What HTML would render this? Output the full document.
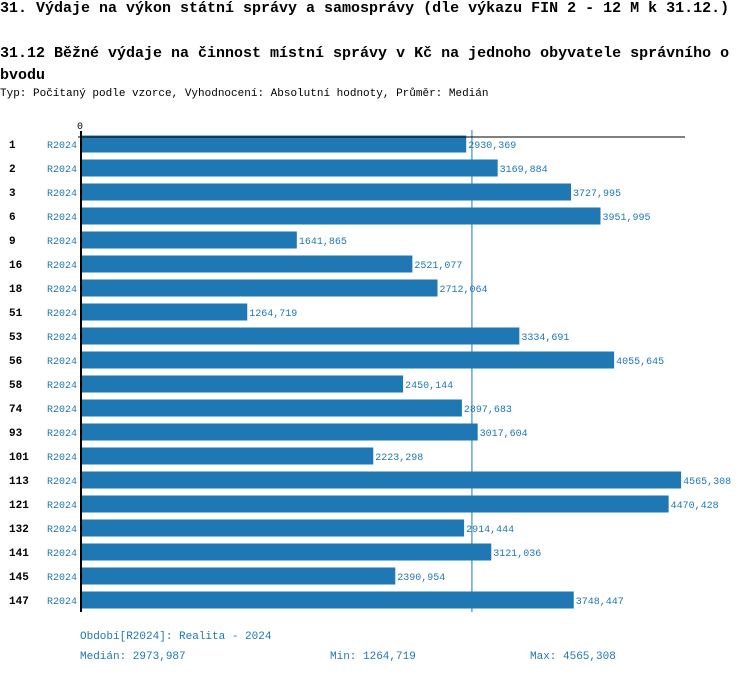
<!DOCTYPE html>
<html><head><meta charset="utf-8"><style>
body{margin:0;background:#fff;width:750px;height:676px;overflow:hidden;font-family:"Liberation Mono",monospace;}
.t{position:absolute;white-space:nowrap;}
</style></head><body>
<div class="t" style="left:0;top:0;font-size:15px;font-weight:bold;">31. Výdaje na výkon státní správy a samosprávy (dle výkazu FIN 2 - 12 M k 31.12.)</div>
<div class="t" style="left:0;top:43px;font-size:15px;font-weight:bold;line-height:22px;white-space:normal;width:750px;">31.12 Běžné výdaje na činnost místní správy v Kč na jednoho obyvatele správního o bvodu</div>
<div class="t" style="left:0;top:88px;font-size:11px;">Typ: Počítaný podle vzorce, Vyhodnocení: Absolutní hodnoty, Průměr: Medián</div>
<svg id="c" width="750" height="676" style="position:absolute;left:0;top:0"></svg>
<div class="t" style="left:80px;top:631px;font-size:11px;color:#1f77b4;">Období[R2024]: Realita - 2024</div>
<div class="t" style="left:80px;top:651px;font-size:11px;color:#1f77b4;">Medián: 2973,987</div>
<div class="t" style="left:330px;top:651px;font-size:11px;color:#1f77b4;">Min: 1264,719</div>
<div class="t" style="left:530px;top:651px;font-size:11px;color:#1f77b4;">Max: 4565,308</div>
<script>
const categories=["1","2","3","6","9","16","18","51","53","56","58","74","93","101","113","121","132","141","145","147"];
const values=[2930.369,3169.884,3727.995,3951.995,1641.865,2521.077,2712.064,1264.719,3334.691,4055.645,2450.144,2897.683,3017.604,2223.298,4565.308,4470.428,2914.444,3121.036,2390.954,3748.447];
const median=2973.987;
const ns="http://www.w3.org/2000/svg";
const svg=document.getElementById('c');
const x0=81,k=0.13145,y0=144,step=24,bh=17;
const X=v=>x0+v*k, Y=i=>y0+i*step;
function el(t,a){const e=document.createElementNS(ns,t);for(const n in a)e.setAttribute(n,a[n]);svg.appendChild(e);return e;}
categories.forEach((c,i)=>{
 const r=el('rect',{x:x0,y:Y(i)-bh/2,width:X(values[i])-x0,height:bh,fill:'#1f77b4'});
 
 
 const l=el('text',{x:9,y:Y(i)+4,'font-size':11,'font-weight':'bold','font-family':'Liberation Mono'});l.textContent=c;
 
 
 const p=el('text',{x:47,y:Y(i)+4,'font-size':10,fill:'#1f77b4','font-family':'Liberation Mono'});p.textContent='R2024';
 
 
 const v=el('text',{x:X(values[i])+2,y:Y(i)+4,'font-size':10,fill:'#1f77b4','font-family':'Liberation Mono'});v.textContent=values[i].toFixed(3).replace('.',',');
 
 
});
const ml=el('line',{x1:X(median),x2:X(median),y1:130,y2:612,stroke:'#1f77b4','stroke-width':1});


const ax=el('line',{x1:78,x2:685,y1:137,y2:137,stroke:'#000','stroke-width':1});


const ay=el('line',{x1:81,x2:81,y1:131,y2:612,stroke:'#000','stroke-width':2});


const z=el('text',{x:77,y:129,'font-size':10,'font-family':'Liberation Mono'});z.textContent='0';


</script>
</body></html>
